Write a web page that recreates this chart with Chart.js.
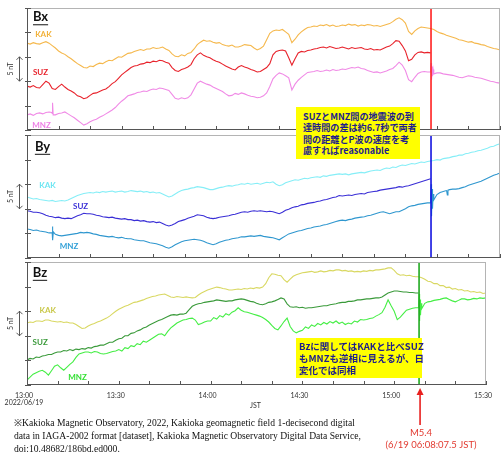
<!DOCTYPE html>
<html>
<head>
<meta charset="utf-8">
<script src="https://cdn.jsdelivr.net/npm/chart.js@4/dist/chart.umd.min.js"></script>
<style>
  html, body { margin: 0; padding: 0; background: #fff; }
  #wrap { position: relative; width: 502px; height: 456px; overflow: hidden; background: #fff; }
  #wrap canvas { position: absolute; left: 0; }
  .note {
    position: absolute; box-sizing: border-box; background: #ffff00; color: #1d1d8c;
    font-family: "Noto Sans CJK JP", sans-serif; font-weight: bold; font-size: 9.5px;
    white-space: nowrap; z-index: 5;
  }
  #ref {
    position: absolute; left: 14px; top: 416px; width: 338px; z-index: 5;
    font-family: "Liberation Serif", "DejaVu Serif", serif; font-size: 9.6px; line-height: 13px; color: #111;
  }
  #ref div { white-space: nowrap; }
  #ref .j { text-align: justify; text-align-last: justify; }
</style>
</head>
<body>
<div id="wrap">
  <canvas id="cBx" width="502" height="126" style="top:6px"></canvas>
  <canvas id="cBy" width="502" height="127" style="top:133px"></canvas>
  <canvas id="cBz" width="502" height="196" style="top:260px"></canvas>

  <div class="note" style="left:296px;top:107px;width:124px;height:52px;padding:3.5px 0 0 7px;line-height:11.5px;font-size:9.1px">SUZとMNZ間の地震波の到<br>達時間の差は約6.7秒で両者<br>間の距離とP波の速度を考<br>慮すればreasonable</div>
  <div class="note" style="left:296px;top:338px;width:126px;height:40px;padding:2px 0 0 3px;line-height:12px">Bzに関してはKAKと比べSUZ<br>もMNZも逆相に見えるが、日<br>変化では同相</div>

  <div id="ref">
    <div class="j">※Kakioka Magnetic Observatory, 2022, Kakioka geomagnetic field 1-decisecond digital</div>
    <div class="j">data in IAGA-2002 format [dataset], Kakioka Magnetic Observatory Digital Data Service,</div>
    <div>doi:10.48682/186bd.ed000.</div>
  </div>
</div>

<script>
// Time axis: minutes after 13:00 JST, one sample per minute.
const minutes = Array.from({ length: 151 }, (_, i) => i);
const hourLabels = ['13:00', '13:30', '14:00', '14:30', '15:00', '15:30'];
const dateLabel = '2022/06/19';
const quakeMinute = 128.125;          // 15:08:07.5 JST
const quakeTitle = 'M5.4';
const quakeTime = '(6/19 06:08:07.5 JST)';

// Bx (nT, offset per station)
const bxKAK = [
  17.8, 17.6, 17.9, 17.7, 17.6, 17.9, 18.1, 17.8, 17.3, 16.8,
  16.2, 15.8, 15.5, 15.0, 14.6, 14.1, 13.6, 13.2, 12.8, 12.7,
  13.1, 13.0, 13.4, 13.7, 13.6, 14.0, 14.3, 14.2, 14.6, 15.0,
  14.9, 15.3, 15.7, 15.8, 16.1, 16.3, 16.5, 16.3, 16.6, 16.6,
  16.9, 16.7, 16.8, 17.0, 16.6, 16.3, 15.6, 15.1, 15.0, 15.4,
  15.2, 15.7, 15.9, 16.6, 17.5, 18.0, 18.4, 18.2, 18.3, 18.0,
  17.8, 17.9, 17.5, 17.3, 17.2, 17.4, 17.0, 17.0, 17.2, 17.5,
  17.4, 17.3, 16.8, 16.4, 16.7, 17.2, 18.5, 19.8, 20.3, 20.5,
  20.4, 20.6, 20.1, 19.6, 17.9, 18.6, 19.5, 20.1, 20.6, 21.0,
  21.1, 21.3, 21.2, 21.5, 21.4, 21.6, 21.3, 21.5, 21.2, 21.3,
  21.5, 21.4, 21.7, 21.5, 21.6, 21.3, 21.5, 21.4, 21.6, 21.5,
  21.3, 21.4, 21.2, 21.4, 21.6, 21.8, 22.2, 22.7, 23.0, 22.6,
  21.9, 20.2, 19.6, 20.3, 20.8, 21.1, 21.0, 20.9, 20.8, 20.6,
  20.2, 19.9, 19.7, 19.4, 19.2, 19.0, 18.8, 18.5, 18.4, 18.2,
  18.0, 18.1, 17.8, 17.7, 17.5, 17.4, 17.1, 16.9, 16.7, 16.6,
  16.4
];
const bxSUZ = [
  9.0, 8.8, 9.1, 8.7, 8.6, 9.3, 10.0, 9.6, 8.5, 8.3,
  8.9, 9.4, 8.8, 8.3, 8.0, 7.6, 7.0, 6.8, 6.4, 6.6,
  7.1, 7.5, 7.6, 7.9, 8.2, 8.4, 8.9, 9.5, 9.9, 10.6,
  11.3, 11.8, 12.3, 12.8, 13.1, 13.2, 13.5, 13.6, 13.9, 13.8,
  14.1, 14.0, 14.3, 14.2, 13.9, 13.7, 12.8, 12.2, 12.0, 12.4,
  12.6, 12.9, 13.4, 14.6, 15.4, 15.8, 15.3, 15.0, 14.8, 14.4,
  14.1, 13.9, 13.5, 13.1, 12.8, 12.5, 12.3, 12.9, 13.2, 12.9,
  12.7, 12.4, 12.2, 11.9, 12.0, 12.4, 12.8, 13.6, 15.4, 16.1,
  16.3, 16.4, 16.2, 14.8, 13.3, 14.6, 15.8, 16.1, 16.0, 16.3,
  16.4, 16.6, 16.7, 16.9, 17.0, 16.8, 17.1, 16.9, 16.7, 16.8,
  17.0, 16.8, 16.6, 16.9, 16.7, 16.8, 16.9, 16.6, 16.5, 16.7,
  16.4, 16.5, 16.4, 16.7, 17.0, 17.2, 17.7, 18.3, 18.2, 17.3,
  16.2, 14.2, 14.5, 15.4, 15.9, 16.0, 15.8, 15.9, 15.8
];
const bxMNZ = [
  3.1, 3.3, 3.0, 3.4, 3.5, 3.3, 3.6, 3.7, 3.4, 3.1,
  3.4, 3.5, 3.7, 3.3, 2.9, 2.5, 2.0, 1.5, 1.0, 1.3,
  1.7, 2.0, 2.2, 2.6, 2.9, 3.3, 3.7, 4.1, 4.6, 5.3,
  5.9, 6.4, 7.0, 7.2, 7.4, 7.7, 7.8, 8.0, 7.9, 8.2,
  8.4, 8.3, 8.6, 8.5, 8.3, 8.1, 7.3, 6.5, 6.3, 6.6,
  6.4, 6.6, 7.2, 8.4, 9.6, 10.0, 9.7, 9.4, 9.2, 8.8,
  8.5, 8.2, 7.9, 7.4, 7.0, 7.1, 7.5, 7.3, 7.6, 7.4,
  7.1, 6.9, 6.8, 6.6, 6.7, 7.0, 7.6, 8.9, 10.5, 11.2,
  11.7, 11.5, 11.1, 10.7, 8.2, 9.4, 10.2, 10.8, 11.3, 11.8,
  11.9, 12.0, 12.2, 12.0, 12.1, 12.3, 12.1, 12.4, 12.2, 12.3,
  12.5, 12.4, 12.6, 12.8, 12.7, 12.9, 12.6, 12.5, 12.2, 12.0,
  11.8, 11.9, 11.7, 11.9, 12.1, 12.4, 12.6, 13.2, 13.9, 13.3,
  12.2, 10.3, 9.9, 10.8, 11.6, 11.9, 12.0, 11.9, 11.9, 11.8,
  11.7, 11.7, 11.5, 11.4, 11.3, 11.2, 11.0, 10.8, 10.7, 10.9,
  11.1, 11.0, 10.8, 10.7, 10.6, 10.4, 10.2, 10.0, 9.9, 9.7,
  9.6
];
// Sub-minute samples around the short pulses: [minute, nT]
const bxMNZPulse = [[7.85, 3.6], [8.1, 5.6], [8.3, 3.1],
  [128.15, 13.7], [128.3, 10.3], [128.45, 13.0], [128.6, 11.0], [128.8, 12.4], [129.0, 11.5]];

// By
const byKAK = [
  12.4, 12.2, 12.0, 12.1, 11.9, 11.8, 11.7, 11.6, 11.7, 11.5,
  11.6, 11.7, 11.6, 11.8, 12.1, 12.4, 12.7, 12.9, 13.1, 13.2,
  13.3, 13.2, 13.4, 13.3, 13.5, 13.4, 13.5, 13.6, 13.4, 13.5,
  13.6, 13.4, 13.5, 13.7, 13.6, 13.5, 13.6, 13.4, 13.5, 13.3,
  13.4, 13.2, 13.3, 13.0, 12.7, 12.4, 12.6, 13.0, 13.4, 13.7,
  13.9, 14.0, 14.2, 14.3, 14.5, 14.4, 14.3, 14.1, 13.9, 13.9,
  14.1, 14.3, 14.4, 14.6, 14.7, 14.6, 14.8, 14.9, 15.1, 15.0,
  15.2, 15.0, 15.1, 15.2, 15.0, 15.2, 15.4, 15.3, 15.5, 15.0,
  14.7, 14.9, 15.3, 15.5, 15.7, 15.9, 15.8, 16.0, 16.2, 16.1,
  16.3, 16.4, 16.5, 16.4, 16.7, 16.6, 16.8, 16.9, 17.0, 17.1,
  17.0, 17.1, 16.9, 17.1, 17.2, 17.3, 17.4, 17.3, 17.5, 17.7,
  17.8, 17.9, 17.8, 18.1, 18.3, 18.2, 18.5, 18.4, 18.7, 18.9,
  18.8, 19.0, 19.2, 19.1, 19.3, 19.5, 19.4, 19.6, 19.7, 19.8,
  20.0, 19.9, 20.2, 20.3, 20.4, 20.6, 20.7, 20.9, 20.9, 21.2,
  21.3, 21.5, 21.6, 21.8, 21.9, 22.1, 22.3, 22.6, 22.7, 23.0,
  23.2
];
const bySUZ = [
  9.6, 9.5, 9.3, 9.3, 9.2, 9.0, 8.7, 8.5, 8.4, 8.2,
  8.3, 8.1, 8.0, 8.1, 8.0, 8.3, 8.6, 8.8, 9.1, 9.0,
  9.0, 8.9, 8.7, 8.6, 8.4, 8.3, 8.2, 8.3, 8.1, 8.0,
  7.9, 8.0, 7.8, 7.8, 7.6, 7.7, 7.5, 7.6, 7.4, 7.3,
  7.4, 7.2, 7.3, 7.0, 6.7, 6.5, 6.7, 7.0, 7.4, 7.6,
  7.8, 8.1, 8.3, 8.5, 8.8, 8.7, 8.6, 8.3, 8.1, 8.0,
  8.1, 8.3, 8.4, 8.5, 8.6, 8.8, 8.9, 9.1, 9.3, 9.4,
  9.3, 9.5, 9.6, 9.5, 9.6, 9.5, 9.4, 9.5, 9.4, 9.2,
  9.0, 9.3, 9.7, 9.9, 10.2, 10.4, 10.5, 10.8, 10.9, 11.1,
  11.2, 11.3, 11.5, 11.6, 11.8, 11.9, 12.1, 12.3, 12.4, 12.7,
  12.6, 12.7, 12.8, 12.7, 12.9, 13.0, 13.1, 13.0, 13.3, 13.4,
  13.5, 13.6, 13.8, 13.9, 14.0, 14.1, 14.2, 14.3, 14.5, 14.4,
  14.6, 14.7, 14.9, 15.1, 15.3, 15.5, 15.7, 15.9, 16.1
];
const byMNZ = [
  5.9, 5.8, 5.6, 5.7, 5.5, 5.4, 5.3, 5.1, 5.0, 4.8,
  4.6, 4.5, 4.6, 4.7, 4.8, 4.9, 5.0, 5.2, 5.1, 5.2,
  5.1, 4.9, 4.8, 4.6, 4.5, 4.4, 4.3, 4.4, 4.2, 4.1,
  4.2, 4.0, 3.9, 3.9, 3.7, 3.6, 3.5, 3.5, 3.3, 3.1,
  3.0, 2.9, 2.7, 2.5, 2.2, 2.0, 2.3, 2.7, 3.0, 3.3,
  3.5, 3.6, 3.7, 3.8, 3.7, 3.6, 3.4, 3.1, 2.9, 2.7,
  2.9, 3.2, 3.4, 3.6, 3.7, 3.9, 4.0, 4.1, 4.3, 4.3,
  4.4, 4.5, 4.4, 4.5, 4.6, 4.4, 4.3, 4.2, 4.1, 3.9,
  3.7, 4.1, 4.5, 4.9, 5.1, 5.3, 5.5, 5.6, 5.8, 6.0,
  6.1, 6.3, 6.4, 6.5, 6.7, 6.8, 7.0, 7.2, 7.4, 7.6,
  7.7, 7.6, 7.8, 7.9, 8.1, 8.2, 8.3, 8.4, 8.6, 8.7,
  8.9, 9.1, 9.3, 9.4, 9.2, 9.0, 9.2, 9.4, 9.4, 9.7,
  10.0, 10.4, 10.6, 10.7, 10.9, 11.0, 11.1, 11.2, 11.2, 12.4,
  12.9, 13.3, 13.5, 13.7, 13.9, 14.0, 14.0, 14.1, 14.3, 14.5,
  14.8, 15.0, 15.2, 15.4, 15.6, 15.9, 16.2, 16.5, 16.8, 17.0,
  17.3
];
const byMNZPulse = [[7.85, 5.1], [8.05, 6.4], [8.2, 3.6], [8.35, 5.3],
  [128.15, 15.0], [128.3, 8.5], [128.45, 14.0], [128.6, 10.0], [128.8, 13.0], [129.0, 11.8],
  [133.1, 13.6], [133.3, 12.8], [133.5, 13.8]];

// Bz
const bzKAK = [
  12.6, 12.8, 12.7, 13.0, 13.0, 12.9, 13.2, 13.2, 13.0, 12.9,
  12.8, 12.9, 12.7, 12.8, 12.6, 12.6, 12.3, 11.9, 11.5, 11.6,
  12.0, 12.3, 12.5, 12.8, 13.0, 13.3, 13.6, 14.0, 14.5, 15.0,
  15.4, 15.7, 16.0, 16.2, 16.5, 16.8, 16.9, 17.1, 17.3, 17.6,
  17.8, 18.0, 18.1, 18.3, 18.4, 18.5, 18.2, 17.9, 17.8, 18.0,
  17.9, 17.8, 17.9, 17.8, 17.7, 17.8, 18.3, 18.7, 19.0, 19.3,
  19.5, 19.7, 19.9, 19.8, 19.6, 19.5, 19.3, 19.3, 19.4, 19.5,
  19.4, 19.6, 19.5, 19.7, 19.6, 19.8, 19.7, 19.9, 20.6, 21.8,
  22.6, 22.5, 22.3, 22.2, 21.4, 20.9, 21.5, 22.1, 22.4, 22.6,
  22.8, 22.9, 23.0, 23.1, 22.9, 23.0, 23.2, 23.0, 23.1, 23.3,
  23.2, 23.4, 23.4, 23.2, 23.3, 23.1, 23.2, 23.0, 23.1, 23.0,
  23.2, 23.1, 23.3, 23.2, 23.4, 23.4, 23.5, 23.6, 23.8, 23.8,
  23.3, 22.6, 22.3, 22.4, 22.2, 22.3, 22.1, 22.0, 22.0, 21.8,
  21.5, 21.1, 21.0, 20.6, 20.6, 20.2, 20.2, 19.8, 19.9, 19.5,
  19.6, 19.3, 19.4, 19.1, 19.2, 18.9, 19.0, 18.8, 18.9, 18.6,
  18.7
];
const bzSUZ = [
  5.1, 5.4, 5.3, 5.7, 5.6, 5.9, 6.0, 6.2, 6.2, 6.5,
  6.7, 6.7, 7.0, 6.9, 7.2, 7.0, 7.3, 7.2, 7.4, 7.3,
  7.6, 7.5, 7.8, 7.9, 8.1, 8.1, 8.4, 8.7, 8.7, 9.1,
  9.4, 9.5, 10.0, 10.0, 10.5, 10.6, 11.0, 11.2, 11.6, 11.8,
  12.2, 12.5, 12.8, 13.1, 13.3, 13.6, 13.9, 14.2, 14.3, 14.2,
  14.4, 14.4, 14.6, 15.3, 16.0, 16.3, 16.5, 16.6, 16.8, 16.9,
  17.0, 17.1, 17.3, 17.2, 17.1, 17.0, 17.1, 17.1, 17.3, 17.4,
  17.5, 17.4, 17.2, 17.0, 16.9, 16.6, 16.4, 16.3, 16.5, 16.8,
  16.9, 17.1, 17.4, 17.7, 17.5, 16.5, 15.9, 15.8, 15.9, 15.7,
  15.8, 15.6, 15.7, 15.7, 15.8, 15.9, 16.0, 16.1, 16.1, 16.3,
  16.4, 16.5, 16.7, 16.8, 16.8, 17.0, 17.0, 17.1, 17.3, 17.3,
  17.4, 17.5, 17.5, 17.6, 17.7, 17.7, 17.9, 18.3, 18.7, 18.9,
  19.1, 19.1, 19.0, 18.9, 18.9, 18.8, 18.8, 18.7, 18.7
];
const bzMNZ = [
  1.0, 1.6, 2.2, 2.5, 2.8, 3.0, 2.6, 2.0, 2.9, 3.8,
  4.1, 3.5, 3.0, 3.6, 4.2, 4.7, 5.6, 6.3, 6.5, 6.7,
  6.7, 6.5, 6.8, 6.7, 6.4, 6.3, 6.4, 6.6, 6.8, 6.9,
  7.2, 6.9, 7.6, 7.4, 8.0, 7.8, 8.4, 8.2, 8.9, 8.7,
  9.1, 9.5, 9.9, 10.3, 10.4, 10.0, 10.9, 11.6, 12.1, 12.6,
  12.9, 13.2, 13.3, 13.5, 13.6, 13.2, 12.3, 12.5, 12.8, 13.0,
  13.0, 13.7, 13.4, 14.1, 13.8, 14.5, 14.2, 14.8, 15.1, 15.7,
  15.2, 14.9, 14.8, 14.6, 14.4, 14.2, 14.0, 13.7, 13.3, 12.8,
  12.1, 11.5, 11.2, 12.0, 12.9, 13.6, 11.9, 11.0, 10.6, 10.9,
  11.1, 11.8, 11.5, 12.2, 11.9, 12.5, 12.2, 12.7, 12.4, 12.9,
  12.6, 13.0, 12.5, 12.8, 12.3, 12.6, 12.4, 13.0, 12.8, 13.3,
  13.2, 13.3, 13.5, 13.6, 14.0, 14.3, 14.7, 15.8, 17.3, 16.1,
  15.0, 13.3, 13.8, 14.5, 15.2, 15.4, 15.6, 15.7, 15.7, 16.2,
  16.6, 16.9, 17.0, 17.2, 17.3, 17.4, 17.6, 17.7, 17.4, 17.1,
  16.9, 17.2, 17.5, 17.5, 17.3, 17.4, 17.6, 17.5, 17.7, 17.6,
  17.7
];
const bzMNZPulse = [[128.15, 18.5], [128.3, 13.0], [128.45, 17.4], [128.6, 14.2], [128.8, 16.6], [129.0, 15.5]];

const stationNames = ['KAK', 'SUZ', 'MNZ'];

function toPoints(values, extra) {
  const pts = values.map((v, i) => ({ x: minutes[i], y: v }));
  (extra || []).forEach(([x, y]) => pts.push({ x, y }));
  return pts.sort((a, b) => a.x - b.x);
}

const FONT = 'Lato, "Noto Sans", sans-serif';

// Panel setup; label anchors are given in axis units (minute, nT).
const panels = [
  {
    canvas: 'cBx', title: 'Bx', titleAt: [1.9, 23.1], eventColor: '#ff2020', bottom: false,
    series: [
      { values: bxKAK, color: '#f5b84c', text: '#f2b23a', at: [5.2, 19.5] },
      { values: bxSUZ, color: '#e8222b', text: '#e8222b', at: [4.3, 11.7] },
      { values: bxMNZ, extra: bxMNZPulse, color: '#f08ae6', text: '#ee80e6', at: [4.6, 1.0] }
    ]
  },
  {
    canvas: 'cBy', title: 'By', titleAt: [2.5, 22.6], eventColor: '#1414e0', bottom: false,
    series: [
      { values: byKAK, color: '#86eef7', text: '#6fe6f2', at: [6.5, 14.7] },
      { values: bySUZ, color: '#3a2fd6', text: '#3a2fd6', at: [17.0, 10.4] },
      { values: byMNZ, extra: byMNZPulse, color: '#2f97cf', text: '#2f9fd6', at: [13.3, 2.4] }
    ]
  },
  {
    canvas: 'cBz', title: 'Bz', titleAt: [1.9, 22.8], eventColor: '#20aa20', bottom: true,
    series: [
      { values: bzKAK, color: '#d9d862', text: '#c9c84a', at: [6.8, 15.2] },
      { values: bzSUZ, color: '#3a9a3a', text: '#3a9a3a', at: [4.3, 8.7] },
      { values: bzMNZ, extra: bzMNZPulse, color: '#44ee44', text: '#33e033', at: [16.5, 1.6] }
    ]
  }
];

function seg(ctx, x1, y1, x2, y2) {
  ctx.beginPath(); ctx.moveTo(x1, y1); ctx.lineTo(x2, y2); ctx.stroke();
}

// Frame, inward ticks, event marker, scale arrow and labels for each panel.
const panelDecor = {
  id: 'panelDecor',
  afterDatasetsDraw(chart, args, opts) {
    const { ctx, chartArea: a, scales: { x, y } } = chart;
    const p = opts.panel;
    ctx.save();

    // event marker
    const qx = x.getPixelForValue(quakeMinute);
    ctx.strokeStyle = p.eventColor; ctx.lineWidth = 1.6;
    seg(ctx, qx, a.top, qx, a.bottom);

    // frame
    ctx.lineWidth = 1;
    ctx.strokeStyle = '#b4b4b4';
    seg(ctx, a.left, a.top + 0.5, a.right, a.top + 0.5);
    seg(ctx, a.right - 0.5, a.top, a.right - 0.5, a.bottom);
    ctx.strokeStyle = '#555';
    seg(ctx, a.left + 0.5, a.top, a.left + 0.5, a.bottom);
    seg(ctx, a.left, a.bottom - 0.5, a.right, a.bottom - 0.5);

    // inward ticks
    ctx.strokeStyle = '#555';
    x.ticks.forEach(t => {
      const px = Math.round(x.getPixelForValue(t.value)) + 0.5;
      seg(ctx, px, a.bottom, px, a.bottom - 4);
    });
    y.ticks.forEach(t => {
      const py = Math.round(y.getPixelForValue(t.value)) + 0.5;
      seg(ctx, a.left - 2, py, a.left + 4, py);
    });

    // 5 nT scale arrow
    const ax = a.left - 7.5, y1 = y.getPixelForValue(15), y2 = y.getPixelForValue(10);
    ctx.strokeStyle = '#444'; ctx.lineWidth = 0.9;
    seg(ctx, ax, y1, ax, y2);
    ctx.beginPath();
    ctx.moveTo(ax - 3, y1 + 3); ctx.lineTo(ax, y1); ctx.lineTo(ax + 3, y1 + 3);
    ctx.moveTo(ax - 3, y2 - 3); ctx.lineTo(ax, y2); ctx.lineTo(ax + 3, y2 - 3);
    ctx.stroke();
    ctx.save();
    ctx.translate(a.left - 16, y.getPixelForValue(12.5));
    ctx.rotate(-Math.PI / 2);
    ctx.fillStyle = '#333'; ctx.font = '7px ' + FONT;
    ctx.textAlign = 'center'; ctx.textBaseline = 'middle';
    ctx.fillText('5 nT', 0, 0);
    ctx.restore();

    // component title, underlined
    ctx.fillStyle = '#111'; ctx.font = 'bold 13px ' + FONT;
    ctx.textAlign = 'left'; ctx.textBaseline = 'middle';
    const tx = x.getPixelForValue(p.titleAt[0]), ty = y.getPixelForValue(p.titleAt[1]);
    ctx.fillText(p.title, tx, ty);
    const tw = ctx.measureText(p.title).width;
    ctx.strokeStyle = '#111'; ctx.lineWidth = 1;
    seg(ctx, tx, ty + 7.5, tx + tw, ty + 7.5);

    // station labels
    ctx.font = 'bold 8px ' + FONT; ctx.textAlign = 'center';
    p.series.forEach((s, i) => {
      ctx.fillStyle = s.text;
      ctx.fillText(stationNames[i], x.getPixelForValue(s.at[0]), y.getPixelForValue(s.at[1]));
    });

    if (p.bottom) {
      // axis title
      ctx.fillStyle = '#333'; ctx.font = '7px ' + FONT;
      ctx.fillText('JST', (a.left + a.right) / 2 - 1, a.bottom + 21);

      // earthquake arrow and caption
      const top = a.bottom + 3, end = a.bottom + 40;
      ctx.strokeStyle = '#e8201e'; ctx.fillStyle = '#e8201e'; ctx.lineWidth = 1.6;
      seg(ctx, qx + 1, top + 5, qx + 1, end);
      ctx.beginPath();
      ctx.moveTo(qx + 1, top); ctx.lineTo(qx + 4.5, top + 7); ctx.lineTo(qx - 2.5, top + 7);
      ctx.closePath(); ctx.fill();
      ctx.fillStyle = '#e23a30'; ctx.font = '9.5px ' + FONT;
      ctx.fillText(quakeTitle, qx + 2, a.bottom + 48);
      ctx.fillText(quakeTime, qx + 12, a.bottom + 60);
    }
    ctx.restore();
  }
};

function tickText(v) {
  if (v % 30 !== 0) return '';
  const label = hourLabels[v / 30];
  return v === 0 ? [label, dateLabel] : label;
}

panels.forEach(p => {
  new Chart(document.getElementById(p.canvas), {
    type: 'line',
    data: {
      datasets: p.series.map((s, i) => ({
        label: stationNames[i],
        data: toPoints(s.values, s.extra),
        borderColor: s.color,
        borderWidth: 1.1,
        pointRadius: 0,
        tension: 0,
        fill: false
      }))
    },
    options: {
      responsive: false,
      animation: false,
      devicePixelRatio: 1,
      events: [],
      layout: { autoPadding: false, padding: { left: 27, right: 2, top: 2, bottom: p.bottom ? 0 : 2 } },
      scales: {
        x: {
          type: 'linear', min: 0, max: 150,
          grid: { display: false, drawTicks: false },
          border: { display: false },
          ticks: {
            display: p.bottom, stepSize: 10, autoSkip: false, maxRotation: 0, padding: 7,
            labelOffset: -3, color: '#333', font: { family: FONT, size: 7, lineHeight: 1.05 },
            callback: tickText
          },
          afterFit: s => { s.height = p.bottom ? 71 : 0; }
        },
        y: {
          type: 'linear', min: 0, max: 25,
          grid: { display: false, drawTicks: false },
          border: { display: false },
          ticks: { display: false, stepSize: 5 },
          afterFit: s => { s.width = 0; }
        }
      },
      plugins: {
        legend: { display: false },
        tooltip: { enabled: false },
        panelDecor: { panel: p }
      }
    },
    plugins: [panelDecor]
  });
});
</script>
</body>
</html>
